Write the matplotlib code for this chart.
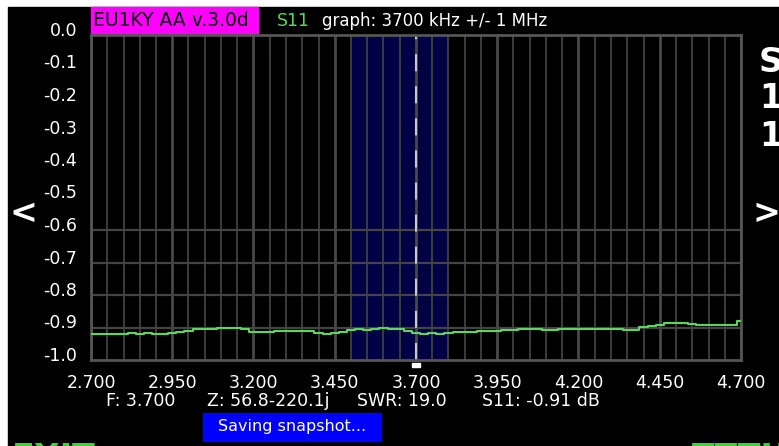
import numpy as np
import matplotlib.pyplot as plt
from matplotlib.patches import Rectangle
from matplotlib.transforms import ScaledTranslation

# S11 sweep, 3700 kHz +/- 1 MHz
freq_mhz = np.linspace(2.7, 4.7, 81)
s11_db = [
    -0.921, -0.921, -0.921, -0.921, -0.921, -0.917, -0.920, -0.918, -0.920, -0.919,
    -0.918, -0.915, -0.910, -0.906, -0.904, -0.905, -0.902, -0.901, -0.903, -0.905,
    -0.914, -0.915, -0.915, -0.912, -0.910, -0.910, -0.910, -0.911, -0.918, -0.920,
    -0.917, -0.913, -0.907, -0.905, -0.907, -0.904, -0.903, -0.905, -0.904, -0.910,
    -0.917, -0.920, -0.918, -0.919, -0.916, -0.915, -0.915, -0.914, -0.911, -0.912,
    -0.911, -0.907, -0.907, -0.906, -0.906, -0.905, -0.908, -0.907, -0.905, -0.906,
    -0.905, -0.904, -0.906, -0.906, -0.906, -0.905, -0.908, -0.907, -0.897, -0.895,
    -0.893, -0.887, -0.886, -0.887, -0.889, -0.892, -0.893, -0.892, -0.891, -0.892,
    -0.880,
]

x_ticks = [2.70, 2.95, 3.20, 3.45, 3.70, 3.95, 4.20, 4.45, 4.70]
y_ticks = [0.0, -0.1, -0.2, -0.3, -0.4, -0.5, -0.6, -0.7, -0.8, -0.9, -1.0]
minor_x = np.linspace(2.7, 4.7, 41)
h_lines = [-0.6, -0.7, -0.8, -0.9]   # only the lower rows were redrawn
band_lo, band_hi = 3.5, 3.8
center_freq = 3.7

W, H = 779, 446


def P(x, y):
    # screen pixel -> figure fraction
    return x / W, 1 - y / H


fig = plt.figure(figsize=(W / 100, H / 100), dpi=100, facecolor='white')
fig.patches.append(Rectangle(P(8, H), (W - 8) / W, (H - 7) / H,
                             transform=fig.transFigure, color='black', zorder=-10))

ax = fig.add_axes([91 / W, (H - 360) / H, 650 / W, 325 / H])
ax.set_zorder(2)
ax.set_facecolor('black')
ax.set_xlim(2.7, 4.7)
ax.set_ylim(-1.0, 0.0)

# band and grid
ax.axvspan(band_lo, band_hi, color='#000045', zorder=0)
major = [x for x in minor_x if round((x - 2.7) / 0.05) % 5 == 0]
minor = [x for x in minor_x if round((x - 2.7) / 0.05) % 5 != 0]
ax.vlines(minor, -1.0, 0.0, color='#3c3c3c', lw=1.4, zorder=1)
ax.vlines(major, -1.0, 0.0, color='#484848', lw=2.0, zorder=1)
ax.hlines(h_lines, 2.7, 4.7, color='#444444', lw=1.6, zorder=1)
for sp in ax.spines.values():
    sp.set_color('#555555')
    sp.set_linewidth(2)

# cursor
ax.axvline(center_freq, color='#c8c8c8', lw=1.5, dashes=(8.2, 7.2), zorder=2)
ax.add_patch(Rectangle((center_freq - 0.011, -0.022), 0.022, 0.013,
                       transform=ax.get_xaxis_transform(), color='white',
                       clip_on=False, zorder=3))

ax.plot(freq_mhz, s11_db, color='#5cd65c', lw=1.5, drawstyle='steps-mid', zorder=3)

ax.set_xticks(x_ticks)
ax.set_xticklabels(['%.3f' % v for v in x_ticks])
ax.set_yticks(y_ticks)
ax.set_yticklabels(['%.1f' % v for v in y_ticks])
ax.tick_params(axis='both', length=0, colors='white', labelsize=12.5)
ax.tick_params(axis='x', pad=10)
ax.tick_params(axis='y', pad=10)
shift = ScaledTranslation(0, 0.06, fig.dpi_scale_trans)
for lab in ax.get_yticklabels():
    lab.set_transform(lab.get_transform() + shift)

# header
fig.patches.append(Rectangle(P(91, 34), 167 / W, 27 / H,
                             transform=fig.transFigure, color='#ff00ff', zorder=1))
fig.text(*P(93, 21), 'EU1KY AA v.3.0d', color='black', fontsize=13.5, va='center')
fig.text(*P(277, 21), 'S11', color='#5cd65c', fontsize=12.5, va='center')
fig.text(*P(322, 21), 'graph: 3700 kHz +/- 1 MHz', color='white', fontsize=12, va='center')

# side arrows and vertical label
fig.text(*P(23, 214), '<', color='white', fontsize=24, fontweight='bold',
         ha='center', va='center')
fig.text(*P(766, 214), '>', color='white', fontsize=24, fontweight='bold',
         ha='center', va='center')
for ch, yc in zip(['S', '1', '1'], [63, 99, 137]):
    fig.text(*P(759, yc), ch, color='white', fontsize=24, fontweight='bold', va='center')

# readout line
for x0, txt in zip([106, 207, 357, 482],
                   ['F: 3.700', 'Z: 56.8-220.1j', 'SWR: 19.0', 'S11: -0.91 dB']):
    fig.text(*P(x0, 401), txt, color='white', fontsize=12.5, va='center')

# status box
fig.patches.append(Rectangle(P(203, 441), 178 / W, 28 / H,
                             transform=fig.transFigure, color='#0000ff', zorder=1))
fig.text(*P(292, 427), 'Saving snapshot...', color='white', fontsize=11.5,
         ha='center', va='center')

# buttons cut off at the bottom edge
fig.text(*P(12, 442), 'EXIT', color='#3cd23c', fontsize=24, fontweight='bold', va='top')
fig.text(*P(692, 442), 'TTTU', color='#3cd23c', fontsize=24, fontweight='bold', va='top')

fig.savefig('out.png', dpi=100, facecolor='white')
